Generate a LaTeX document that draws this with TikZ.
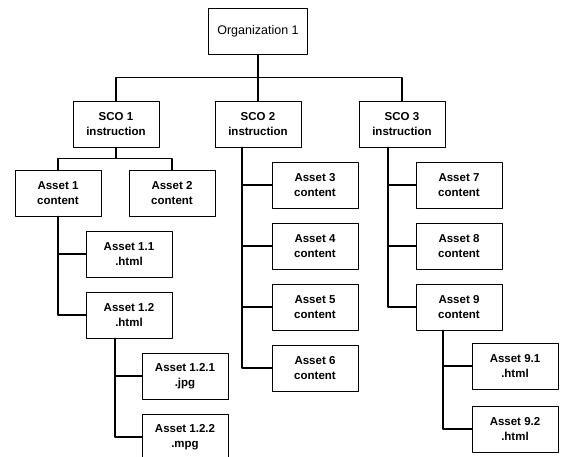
\documentclass[tikz,border=0pt]{standalone}
\usepackage{fontspec}
\setmainfont{Liberation Sans}
\usetikzlibrary{calc}

\begin{document}
\begin{tikzpicture}[x=1pt, y=-1pt, line join=round, line cap=round,
		font=\fontsize{11.5}{15}\selectfont\bfseries]
	\tikzset{
		box/.style={draw, line width=0.7pt, minimum width=86pt, minimum height=46pt, inner sep=0pt, align=center},
		link/.style={line width=1.1pt}
	}
	\useasboundingbox (0,0) rectangle (563,457);
	\node[box, minimum width=99pt, font=\fontsize{12.5}{15}\selectfont] (org) at (258,31) {Organization 1};
	\foreach \x/\y/\n/\t in {116/124/sco1/{SCO 1\\instruction},258/124/sco2/{SCO 2\\instruction},402/124/sco3/{SCO 3\\instruction},
		58/193/a1/{Asset 1\\content},172/193/a2/{Asset 2\\content},
		129/254/a11/{Asset 1.1\\.html},129/315/a12/{Asset 1.2\\.html},
		185/376/a121/{Asset 1.2.1\\.jpg},185/437/a122/{Asset 1.2.2\\.mpg},
		315/185/a3/{Asset 3\\content},315/246/a4/{Asset 4\\content},315/307/a5/{Asset 5\\content},315/368/a6/{Asset 6\\content},
		459/185/a7/{Asset 7\\content},459/246/a8/{Asset 8\\content},459/307/a9/{Asset 9\\content},
		515/366/a91/{Asset 9.1\\.html},515/429/a92/{Asset 9.2\\.html}}
		\node[box] (\n) at (\x,\y) {\t};
	% organization to the three SCOs
	\coordinate (j0) at ($(org.south)!.5!(sco2.north)$);
	\draw[link] (org) -- (sco2);
	\draw[link] (sco1) |- (j0) -| (sco3);
	% SCO 1
	\coordinate (j1) at ($(sco1.south)!.5!(a1.north)$);
	\draw[link] (sco1) -- (sco1|-j1);
	\draw[link] (a1) |- (j1) -| (a2);
	\foreach \n in {a11,a12}
		\draw[link] (a1) |- (\n);
	\foreach \n in {a121,a122}
		\draw[link] ([xshift=-14pt]a12.south) |- (\n);
	% SCO 2 and SCO 3
	\foreach \n in {a3,a4,a5,a6}
		\draw[link] ([xshift=-16pt]sco2.south) |- (\n);
	\foreach \n in {a7,a8,a9}
		\draw[link] ([xshift=-14pt]sco3.south) |- (\n);
	\foreach \n in {a91,a92}
		\draw[link] ([xshift=-16pt]a9.south) |- (\n);
\end{tikzpicture}
\end{document}
